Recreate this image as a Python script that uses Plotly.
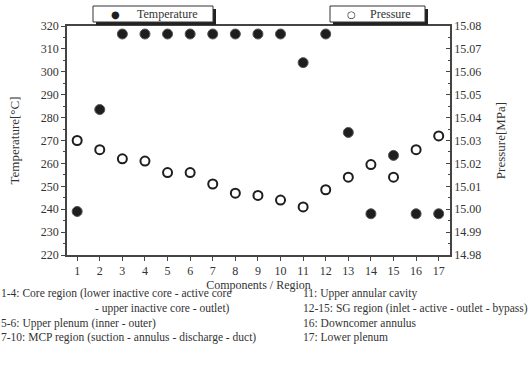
import plotly.graph_objects as go

components = list(range(1, 18))
temperature = [239, 283.5, 316.5, 316.5, 316.5, 316.5, 316.5, 316.5, 316.5, 316.5, 304, 316.5, 273.5, 238, 263.5, 238, 238]
pressure = [15.030, 15.026, 15.022, 15.021, 15.016, 15.016, 15.011, 15.007, 15.006, 15.004, 15.001, 15.0085, 15.014, 15.0195, 15.014, 15.026, 15.032]

notes_left = ["1-4: Core region (lower inactive core - active core",
              "- upper inactive core - outlet)",
              "5-6: Upper plenum (inner - outer)",
              "7-10: MCP region (suction - annulus - discharge - duct)"]
notes_right = ["11: Upper annular cavity",
               "12-15: SG region (inlet - active - outlet - bypass)",
               "16: Downcomer annulus",
               "17: Lower plenum"]

FONT = "Liberation Serif"
TXT = "#333333"
L, R, T, B = 67, 81, 26, 110
W, H = 531, 365
PW, PH = W - L - R, H - T - B


def px(x):
    return (x - L) / PW


def py(y):
    return (H - B - y) / PH


fig = go.Figure()
fig.add_trace(go.Scatter(x=components, y=temperature, mode="markers", name="Temperature",
                         marker=dict(symbol="circle", size=10, color="#1e1e1e",
                                     line=dict(color="#555555", width=1))))
fig.add_trace(go.Scatter(x=components, y=pressure, mode="markers", name="Pressure",
                         marker=dict(symbol="circle-open", size=9, color="#1e1e1e",
                                     line=dict(width=2)),
                         yaxis="y2"))

axis_common = dict(showline=True, linecolor="#444444", linewidth=1.5, showgrid=False,
                   zeroline=False, tickfont=dict(family=FONT, size=12, color=TXT),
                   ticklen=4, tickcolor="#444444", automargin=False)

fig.update_layout(
    width=W, height=H,
    margin=dict(l=L, r=R, t=T, b=B, autoexpand=False),
    paper_bgcolor="white", plot_bgcolor="white",
    showlegend=False,
    font=dict(family=FONT, color=TXT),
    xaxis=dict(range=[0.55, 17.5], tickmode="array", tickvals=components,
               ticktext=[str(c) for c in components], ticks="outside", mirror=True,
               title=dict(text="Components / Region", font=dict(family=FONT, size=12, color=TXT), standoff=2),
               **axis_common),
    yaxis=dict(range=[220, 320], dtick=10, ticks="outside",
               minor=dict(dtick=5, ticks="outside", ticklen=2, tickcolor="#444444"),
               title=dict(text="Temperature[°C]", font=dict(family=FONT, size=13, color=TXT), standoff=18),
               **axis_common),
    yaxis2=dict(range=[14.98, 15.08], dtick=0.01, tickformat=".2f", overlaying="y", side="right",
                ticks="inside",
                minor=dict(dtick=0.005, ticks="inside", ticklen=2, tickcolor="#444444"),
                title=dict(text="Pressure[MPa]", font=dict(family=FONT, size=13, color=TXT), standoff=16),
                **axis_common),
)

# legend boxes (with drop shadow)
boxes = [(93, 213, "●", 115, "Temperature", 135), (330, 425, "○", 351, "Pressure", 368)]
for x0, x1, glyph, gx, label, tx in boxes:
    fig.add_shape(type="rect", xref="paper", yref="paper", x0=px(x0 + 3), x1=px(x1 + 3),
                  y0=py(25), y1=py(9), fillcolor="#222222", line=dict(width=0), layer="above")
    fig.add_shape(type="rect", xref="paper", yref="paper", x0=px(x0), x1=px(x1),
                  y0=py(22), y1=py(6), fillcolor="white", line=dict(color="#333333", width=1), layer="above")
    fig.add_annotation(text=glyph, x=px(gx), y=py(14), xref="paper", yref="paper", xanchor="center",
                       yanchor="middle", showarrow=False, font=dict(family="DejaVu Sans", size=10, color="#1e1e1e"))
    fig.add_annotation(text=label, x=px(tx), y=py(14), xref="paper", yref="paper", xanchor="left",
                       yanchor="middle", showarrow=False, font=dict(family=FONT, size=12, color=TXT))

# bottom notes
ys = [293, 308, 323, 337]
xl = [-1, 93, -1, -1]
for txt, y, x in zip(notes_left, ys, xl):
    fig.add_annotation(text=txt, x=px(x), y=py(y), xref="paper", yref="paper", xanchor="left", yanchor="middle",
                       showarrow=False, font=dict(family=FONT, size=11.5, color=TXT))
for txt, y in zip(notes_right, ys):
    fig.add_annotation(text=txt, x=px(301), y=py(y), xref="paper", yref="paper", xanchor="left", yanchor="middle",
                       showarrow=False, font=dict(family=FONT, size=11.5, color=TXT))

fig.write_html("out.html", config={"displayModeBar": False},
               post_script="document.body.style.margin='0';document.body.style.padding='0';")
